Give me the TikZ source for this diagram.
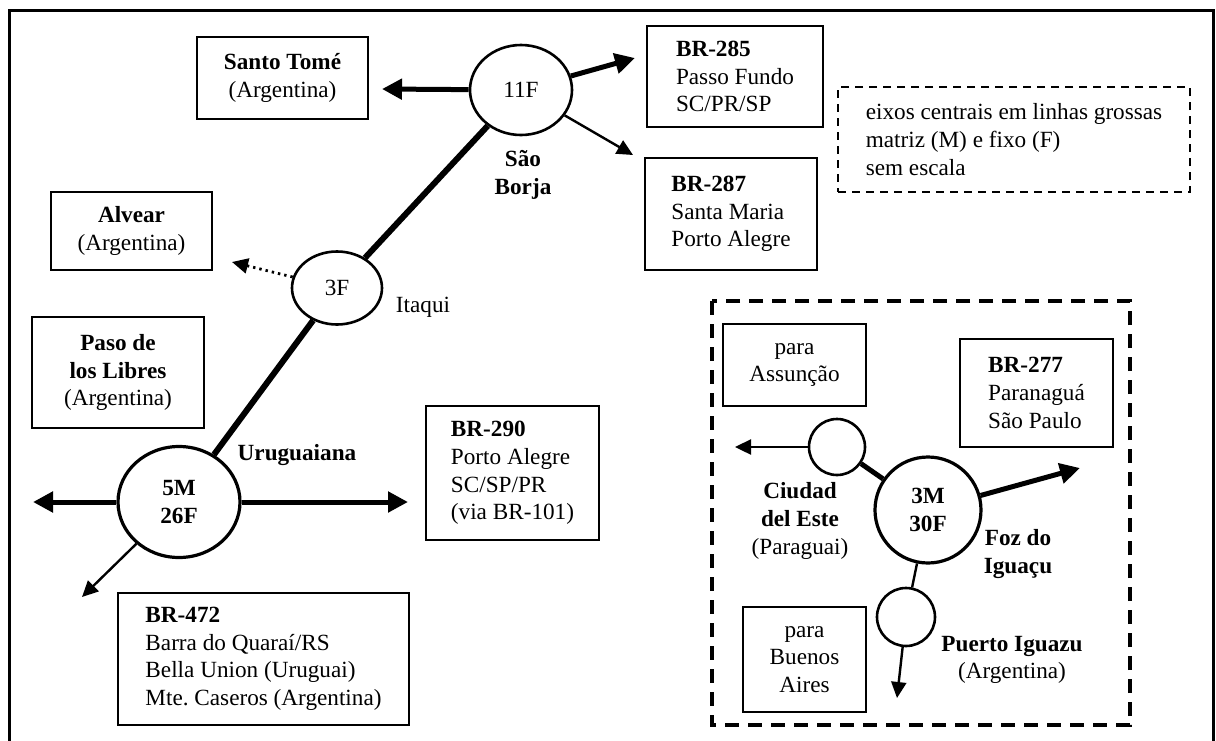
\documentclass[tikz,border=0pt]{standalone}
\usepackage{fontspec}
\setmainfont{Liberation Serif}
\usetikzlibrary{arrows.meta,shapes.geometric}

\newcommand{\mapfont}{\fontsize{11.6}{13.8}\selectfont}

\tikzset{
  place/.style={draw, line width=1pt, align=center, inner sep=0pt, font=\mapfont},
  route/.style={draw, line width=1pt, align=left, inner sep=0pt, font=\mapfont},
  town/.style={align=center, inner sep=0pt, font=\mapfont},
  hub/.style={draw, ellipse, line width=1.3pt, inner sep=0pt, font=\mapfont},
  minihub/.style={draw, circle, line width=1.3pt, inner sep=0pt},
  axis/.style={line width=3pt},
  mainroad/.style={line width=2.5pt, -{Triangle[length=10pt,width=10pt]}},
  sideroad/.style={line width=1.2pt, -{Triangle[length=8pt,width=7.5pt]}},
}

\begin{document}
\frenchspacing
\begin{tikzpicture}[x=0.5pt, y=-0.5pt]
 \useasboundingbox (0,0) rectangle (1216,740);
 % moldura
 \draw[line width=1.5pt] (9,760) -- (9,10) -- (1213,10) -- (1213,760);

 % terminais
 \node[hub, minimum width=51pt, minimum height=45pt] (borja) at (521,90) {11F};
 \node[hub, minimum width=45pt, minimum height=36.5pt] (itaqui) at (337,288) {3F};
 \node[hub, line width=1.6pt, minimum width=61pt, minimum height=55.5pt, align=center] (urug) at (179,502) {\textbf{5M}\\\textbf{26F}};
 \node[hub, line width=1.6pt, minimum size=53pt, align=center] (foz) at (928,510) {\textbf{3M}\\\textbf{30F}};
 \node[minihub, minimum size=28pt] (ciudad) at (837,447) {};
 \node[minihub, minimum size=29pt] (puerto) at (906,617) {};

 % destinos
 \node[place, minimum width=85.5pt, minimum height=41pt] (santo) at (282.5,78) {\textbf{Santo Tomé}\\(Argentina)};
 \node[place, minimum width=80.5pt, minimum height=39pt] (alvear) at (131.5,231) {\textbf{Alvear}\\(Argentina)};
 \node[place, minimum width=86pt, minimum height=55.5pt] (paso) at (118,372.5) {\textbf{Paso de}\\\textbf{los Libres}\\(Argentina)};
 \node[route, minimum width=88pt, minimum height=50.5pt] (br285) at (735,76.5) {\textbf{BR-285}\\Passo Fundo\\SC/PR/SP};
 \node[route, minimum width=86pt, minimum height=56pt] (br287) at (731,214) {\textbf{BR-287}\\Santa Maria\\Porto Alegre};
 \node[route, minimum width=86.5pt, minimum height=67pt] (br290) at (512.5,473) {\textbf{BR-290}\\Porto Alegre\\SC/SP/PR\\(via BR-101)};
 \node[route, minimum width=145.5pt, minimum height=66pt] (br472) at (263.5,659) {\textbf{BR-472}\\Barra do Quaraí/RS\\Bella Union (Uruguai)\\Mte. Caseros (Argentina)};
 \node[route, line width=0.8pt, dash pattern=on 4pt off 3pt, minimum width=176pt, minimum height=52.5pt] (legenda) at (1014,139.5) {eixos centrais em linhas grossas\\matriz (M) e fixo (F)\\sem escala};
 \node[place, minimum width=71.5pt, minimum height=41pt] (assuncao) at (794.5,365) {para\\Assunção};
 \node[route, minimum width=76.5pt, minimum height=54pt] (br277) at (1036.5,393) {\textbf{BR-277}\\Paranaguá\\São Paulo};
 \node[place, minimum width=61.5pt, minimum height=52.5pt] (buenos) at (804.5,659.5) {para\\Buenos\\Aires};

 % nomes das cidades
 \node[town] (lblBorja) at (523,175) {\textbf{São}\\\textbf{Borja}};
 \node[town] (lblItaqui) at (423,307) {Itaqui};
 \node[town] (lblUrug) at (297,455) {\textbf{Uruguaiana}};
 \node[town] (lblCiudad) at (800,521) {\textbf{Ciudad}\\\textbf{del Este}\\(Paraguai)};
 \node[town] (lblFoz) at (1018,554) {\textbf{Foz do}\\\textbf{Iguaçu}};
 \node[town] (lblPuerto) at (1012,660) {\textbf{Puerto Iguazu}\\(Argentina)};

 % pontas das setas
 \coordinate (toSanto) at (382,89);
 \coordinate (to285) at (635,58);
 \coordinate (to287) at (633,155);
 \coordinate (toAlvear) at (232,262);
 \coordinate (toWest) at (33,502);
 \coordinate (toEast) at (408,502);
 \coordinate (to472) at (82,597);
 \coordinate (toAssuncao) at (735,447);
 \coordinate (to277) at (1080,468);
 \coordinate (toBuenos) at (897,698);

 % area de Foz do Iguacu
 \draw[line width=2pt, dash pattern=on 7pt off 4.5pt] (712,301) rectangle (1130,725);

 % eixos e saidas
 \draw[axis] (borja) -- (itaqui);
 \draw[axis] (itaqui) -- (urug);
 \draw[axis, line width=2.5pt] (ciudad) -- (foz);
 \draw[mainroad] (borja) -- (toSanto);
 \draw[mainroad] (borja) -- (to285);
 \draw[sideroad] (borja) -- (to287);
 \draw[sideroad, dotted, line width=1.4pt] (itaqui) -- (toAlvear);
 \draw[mainroad] (urug) -- (toWest);
 \draw[mainroad] (urug) -- (toEast);
 \draw[sideroad] (urug) -- (to472);
 \draw[sideroad] (ciudad) -- (toAssuncao);
 \draw[mainroad] (foz) -- (to277);
 \draw[line width=1.2pt] (foz) -- (puerto);
 \draw[sideroad] (puerto) -- (toBuenos);
\end{tikzpicture}
\end{document}
